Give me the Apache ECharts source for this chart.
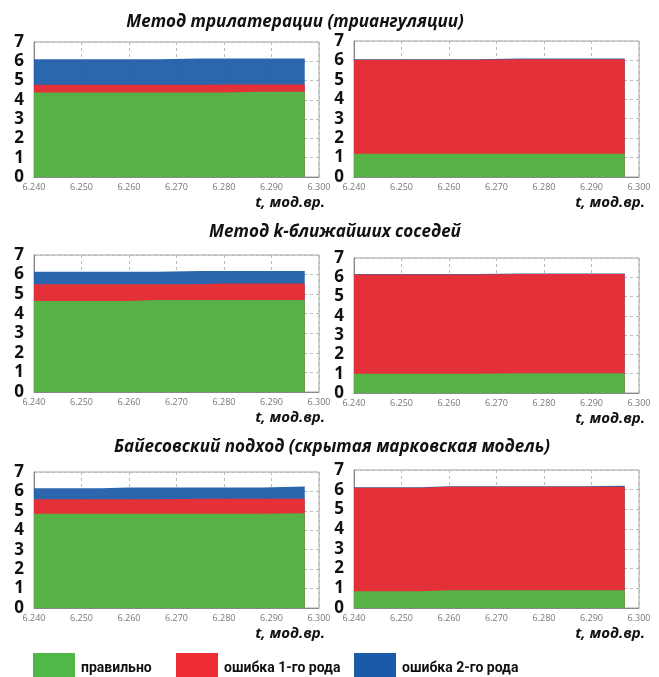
<!DOCTYPE html>
<html>
<head>
<meta charset="utf-8">
<script src="https://cdn.jsdelivr.net/npm/echarts@6/dist/echarts.min.js"></script>
<style>
html, body { margin: 0; padding: 0; background: #fff; }
#main { width: 659px; height: 677px; }
</style>
</head>
<body>
<div id="main"></div>
<script>
// time points (мод.вр.), values hold until next point
var times = [6.240, 6.254, 6.260, 6.266, 6.275, 6.280, 6.288, 6.297];
var xTicks = [6.24, 6.25, 6.26, 6.27, 6.28, 6.29, 6.30];
var yTicks = [0, 1, 2, 3, 4, 5, 6, 7];

var names = ['правильно', 'ошибка 1-го рода', 'ошибка 2-го рода'];
var titles = ['Метод трилатерации (триангуляции)', 'Метод k-ближайших соседей', 'Байесовский подход (скрытая марковская модель)'];

// upper edge of each band (cumulative)
var tri_L_ok  = [4.38, 4.38, 4.38, 4.38, 4.38, 4.42, 4.42, 4.42];
var tri_L_e1  = [4.78, 4.78, 4.78, 4.78, 4.80, 4.80, 4.80, 4.80];
var tri_L_e2  = [6.10, 6.10, 6.10, 6.15, 6.15, 6.15, 6.15, 6.15];
var tri_R_ok  = [1.20, 1.20, 1.20, 1.20, 1.20, 1.20, 1.20, 1.20];
var tri_R_e1  = [6.03, 6.03, 6.03, 6.06, 6.06, 6.06, 6.06, 6.06];
var tri_R_e2  = [6.06, 6.06, 6.06, 6.10, 6.10, 6.10, 6.10, 6.10];

var knn_L_ok  = [4.65, 4.65, 4.70, 4.70, 4.70, 4.70, 4.70, 4.70];
var knn_L_e1  = [5.50, 5.50, 5.50, 5.50, 5.55, 5.55, 5.55, 5.55];
var knn_L_e2  = [6.15, 6.15, 6.15, 6.18, 6.18, 6.18, 6.18, 6.18];
var knn_R_ok  = [1.00, 1.00, 1.00, 1.03, 1.03, 1.03, 1.03, 1.03];
var knn_R_e1  = [6.15, 6.15, 6.15, 6.17, 6.17, 6.17, 6.17, 6.17];
var knn_R_e2  = [6.17, 6.17, 6.17, 6.20, 6.20, 6.20, 6.20, 6.20];

var hmm_L_ok  = [4.85, 4.85, 4.85, 4.85, 4.85, 4.85, 4.88, 4.88];
var hmm_L_e1  = [5.60, 5.60, 5.60, 5.62, 5.62, 5.62, 5.62, 5.62];
var hmm_L_e2  = [6.17, 6.20, 6.20, 6.20, 6.20, 6.20, 6.25, 6.25];
var hmm_R_ok  = [0.85, 0.90, 0.90, 0.90, 0.90, 0.90, 0.90, 0.90];
var hmm_R_e1  = [6.10, 6.15, 6.15, 6.15, 6.15, 6.15, 6.15, 6.15];
var hmm_R_e2  = [6.13, 6.17, 6.17, 6.17, 6.17, 6.17, 6.20, 6.20];

var panels = [
	[tri_L_ok, tri_L_e1, tri_L_e2], [tri_R_ok, tri_R_e1, tri_R_e2],
	[knn_L_ok, knn_L_e1, knn_L_e2], [knn_R_ok, knn_R_e1, knn_R_e2],
	[hmm_L_ok, hmm_L_e1, hmm_L_e2], [hmm_R_ok, hmm_R_e1, hmm_R_e2]
];

var colors = ['#4fb848', '#ee2d33', '#1b5aa8'];
var font = "'Open Sans', 'Noto Sans', sans-serif";

// plot areas [left, top, width, height]
var boxes = [
	[34, 42, 285, 135], [354, 41, 285, 136],
	[34, 255, 285, 137], [354, 258, 285, 135],
	[34, 472, 285, 136], [354, 470, 285, 138]
];

var myChart = echarts.init(document.getElementById('main'));

var grids = [], xAxes = [], yAxes = [], series = [], graphics = [];
boxes.forEach(function (b, i) {
	grids.push({
		left: b[0], top: b[1], width: b[2], height: b[3],
		show: true, borderColor: '#a0a0a0', borderWidth: 1, backgroundColor: '#fff'
	});
	xAxes.push({
		type: 'value', gridIndex: i,
		min: xTicks[0], max: xTicks[xTicks.length - 1], interval: 0.01,
		axisLine: { show: true, onZero: false, lineStyle: { color: '#888' } },
		axisTick: { show: false },
		axisLabel: {
			fontSize: 9, color: '#777', fontFamily: font, margin: 6,
			formatter: function (v) { return v.toFixed(3); }
		},
		splitLine: { show: true, lineStyle: { color: '#bbb', type: [3, 3], width: 1 } }
	});
	yAxes.push({
		type: 'value', gridIndex: i,
		min: yTicks[0], max: yTicks[yTicks.length - 1], interval: 1,
		axisLine: { show: true, lineStyle: { color: '#888' } },
		axisTick: { show: false },
		axisLabel: { fontSize: 17, fontWeight: 'bold', color: '#111', fontFamily: font, margin: 10 },
		splitLine: { show: true, lineStyle: { color: '#bbb', type: [3, 3], width: 1 } }
	});
	// draw the outer band first so the inner ones cover it
	for (var s = 2; s >= 0; s--) {
		var vals = panels[i][s];
		series.push({
			name: names[s],
			type: 'line',
			xAxisIndex: i, yAxisIndex: i,
			step: 'end',
			symbol: 'none',
			silent: true,
			z: 2 + (2 - s),
			itemStyle: { color: colors[s] },
			lineStyle: { width: 0 },
			areaStyle: { color: colors[s], opacity: s === 2 ? 0.93 : 0.95 },
			data: times.map(function (t, k) { return [t, vals[k]]; })
		});
	}
	// axis name
	graphics.push({
		type: 'text',
		x: b[0] + b[2] + 6, y: b[1] + b[3] + 26,
		style: {
			text: 't, мод.вр.', textAlign: 'right', textVerticalAlign: 'middle',
			font: 'italic bold 15px ' + font, fill: '#111'
		}
	});
});

var titlePos = [[295, 22], [335, 232], [332, 447]];
titles.forEach(function (t, i) {
	graphics.push({
		type: 'text',
		x: titlePos[i][0], y: titlePos[i][1],
		style: {
			text: t, textAlign: 'center', textVerticalAlign: 'middle',
			font: 'italic bold 17px ' + font, fill: '#111'
		}
	});
});

var legendLeft = [28, 171, 349];
var legends = names.map(function (n, i) {
	return {
		data: [n], left: legendLeft[i], top: 648,
		icon: 'rect', itemWidth: 42, itemHeight: 30,
		selectedMode: false,
		textStyle: { fontSize: 14, fontWeight: 'bold', color: '#111', fontFamily: 'Roboto, sans-serif', padding: [0, 0, 0, 1] }
	};
});

var option = {
	animation: false,
	backgroundColor: '#fff',
	color: colors,
	grid: grids,
	xAxis: xAxes,
	yAxis: yAxes,
	legend: legends,
	graphic: graphics,
	series: series
};
myChart.setOption(option);
</script>
</body>
</html>
